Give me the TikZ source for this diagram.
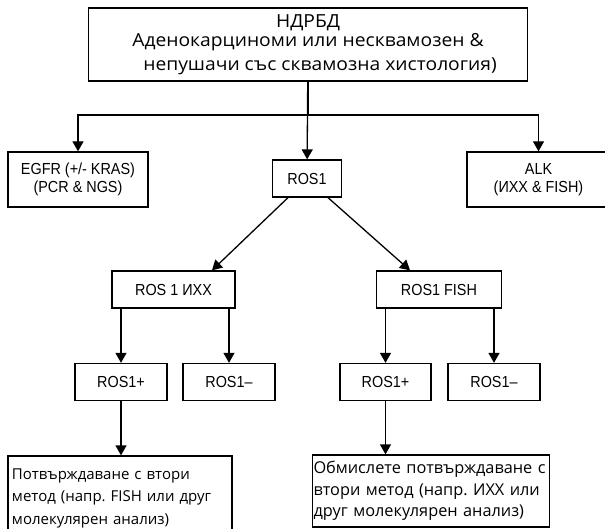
\documentclass[tikz,border=0pt]{standalone}
\usepackage{fontspec}
\newfontfamily\segoef{Open Sans}
\newfontfamily\segoewf{Open Sans}[FakeStretch=1.07]
\newfontfamily\arialf{Liberation Sans}[FakeStretch=0.9]
\usetikzlibrary{arrows.meta,shapes}
\frenchspacing
\tikzstyle{box}=[draw,rectangle,line width=1.3pt,inner sep=0pt,align=center,font=\fontsize{16}{18}\arialf]
\tikzstyle{bigbox}=[draw,rectangle,line width=1.3pt,inner sep=0pt,align=left,font=\fontsize{15}{22.5}\segoef]
\tikzstyle{edge}=[draw,line width=1.3pt,-{Triangle[width=11pt,length=10pt]}]
\tikzstyle{undirectededge}=[draw,line width=1.3pt]

\begin{document}
\begin{tikzpicture}[x=1pt,y=-1pt]
    \useasboundingbox (0,0) rectangle (605,529);
    % Top box with the diagnosis
    \node[draw,rectangle,line width=1.3pt,minimum width=439pt,minimum height=73pt,align=center,
          font=\fontsize{18}{20}\segoewf] (top) at (308,44.5)
        {НДРБД\\[-1pt]Аденокарциноми или несквамозен \&\hspace*{20pt}\\[4pt]\hspace*{24pt}непушачи със сквамозна хистология)};

    % Then the test boxes
    \foreach \pos/\name/\w/\h/\txt in {{(78,179.5)/egfr/140/55/{EGFR (+/- KRAS)\\(PCR \& NGS)}},
        {(307,178.5)/ros/69/37/{ROS1}}, {(538.5,179.5)/alk/143/55/{ALK\\(ИХХ \& FISH)}},
        {(173.5,289.5)/rosihc/123/37/{ROS 1 ИХХ}}, {(439,289.5)/rosfish/125/37/{ROS1 FISH}},
        {(121,382)/posa/92/37/{ROS1+}}, {(229,382)/nega/92/37/{ROS1–}},
        {(385.5,382)/posb/91/37/{ROS1+}}, {(494,382)/negb/92/37/{ROS1–}}}
        \node[box,minimum width=\w pt,minimum height=\h pt] (\name) at \pos {\txt};

    % Confirmation boxes
    \node[bigbox,minimum width=224pt,minimum height=84pt,text width=216pt,inner xsep=4pt] (confa) at (120,498)
        {Потвърждаване с втори\\метод (напр. FISH или друг\\молекулярен анализ)\\[8pt]};
    \node[bigbox,minimum width=236.5pt,minimum height=72pt,text width=235pt,inner xsep=1pt,
          font=\fontsize{16.3}{21.5}\segoef] (confb) at (431,491)
        {Обмислете потвърждаване с\\втори метод (напр. ИХХ или\\друг молекулярен анализ)};

    % Connect the boxes
    \coordinate (split) at (308,115);
    \path[undirectededge] (split) -- (top.south);
    \path[edge] (split) -| (egfr);
    \path[edge] (split) -| (alk);
    \path[edge] ([xshift=-19pt]ros.south) -- ([xshift=38.5pt]rosihc.north);
    \path[edge] ([xshift=21pt]ros.south) -- ([xshift=-29pt]rosfish.north);
    \foreach \source/\dest in {top/ros,
        rosihc.south -| posa.north/posa.north, rosihc.south -| nega.north/nega.north,
        rosfish.south -| posb.north/posb.north, rosfish.south -| negb.north/negb.north,
        posa.south/posa.south |- confa.north, posb.south/posb.south |- confb.north}
        \path[edge] (\source) -- (\dest);
\end{tikzpicture}
\end{document}
